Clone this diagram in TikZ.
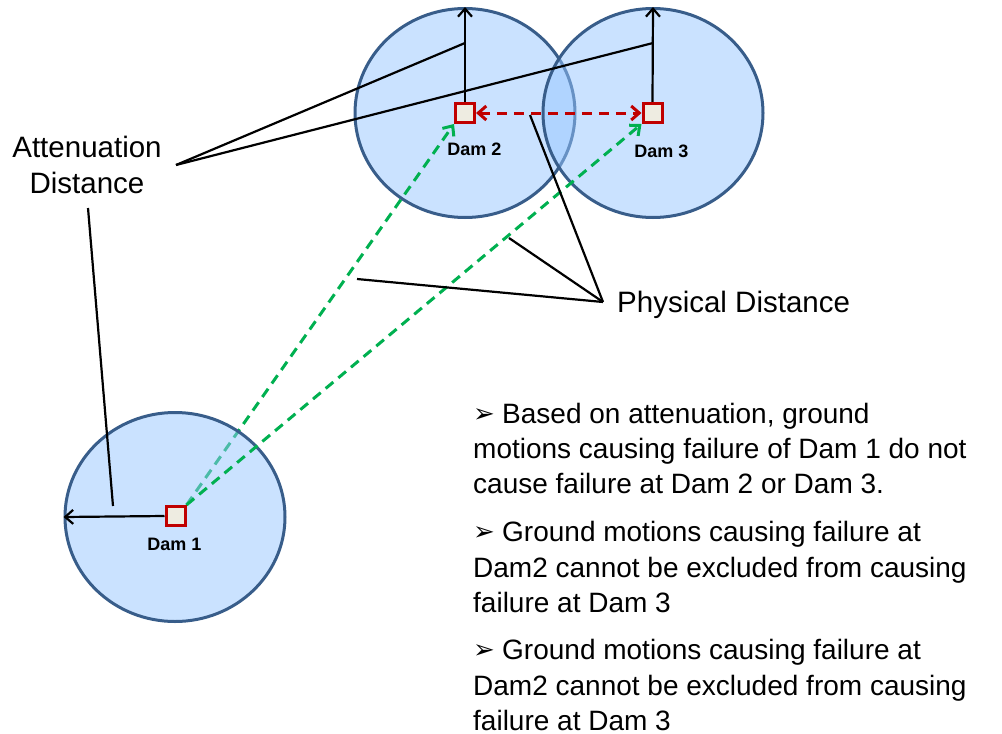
\documentclass[tikz,border=0pt]{standalone}
\usepackage{fontspec}
\setmainfont{Liberation Sans}
\newfontfamily\symfont{DejaVu Sans}
\usetikzlibrary{arrows.meta,shapes.geometric}

\pgfdeclarelayer{far}
\pgfdeclarelayer{near}
\pgfdeclarelayer{front}
\pgfsetlayers{far,near,main,front}

\definecolor{zonefill}{RGB}{150,198,255}
\definecolor{zoneedge}{RGB}{56,93,138}
\definecolor{damred}{RGB}{192,0,0}
\definecolor{damfill}{RGB}{238,236,225}
\definecolor{pathgreen}{RGB}{0,176,80}

\tikzset{
  zone/.style={ellipse, minimum width=220pt, minimum height=209pt, inner sep=0pt,
    draw=zoneedge, line width=3pt, fill=zonefill, fill opacity=0.5},
  damsq/.style={rectangle, draw=damred, fill=damfill, line width=3pt,
    minimum size=19pt, inner sep=0pt},
  damlabel/.style={font=\fontsize{18}{20}\selectfont\bfseries, inner sep=0pt, anchor=base},
  bigtext/.style={font=\fontsize{28}{36}\selectfont, inner sep=0pt},
  calltext/.style={font=\fontsize{29.5}{36}\selectfont, inner sep=0pt},
  pointer/.style={black, line width=2.2pt},
  reach/.style={black, line width=2.2pt, -{Straight Barb[length=8pt, width=14pt]}},
  pathred/.style={damred, line width=3pt, dash pattern=on 10pt off 7pt,
    {Straight Barb[length=8pt, width=14pt]}-{Straight Barb[length=8pt, width=14pt]}},
  pathgr/.style={pathgreen, line width=3pt, dash pattern=on 10pt off 6.5pt,
    -{Straight Barb[length=8pt, width=14pt]}},
  bulletline/.style={bigtext, anchor=base west},
}
\newcommand{\arrowbullet}{\makebox[29pt][l]{\raisebox{0.5pt}{\symfont\fontsize{26}{26}\selectfont ➢}}}

\begin{document}
\begin{tikzpicture}[x=1pt,y=-1pt]
\useasboundingbox (0,0) rectangle (1002,734);

% dam sites
\begin{pgfonlayer}{front}
  \node[damsq] (d1) at (175.5,516) {};
  \node[damsq] (d2) at (465,113) {};
  \node[damsq] (d3) at (652.5,113) {};
\end{pgfonlayer}

% attenuation zones of Dam 2 and Dam 3, with the path to Dam 2 beneath Dam 1's zone
\begin{pgfonlayer}{far}
  \node[zone] (z2) at (465,113) {};
  \node[zone] (z3) at (653,113) {};
  \draw[pathgr] (d1.north east) -- (d2.south west);
\end{pgfonlayer}
\begin{pgfonlayer}{near}
  \node[zone] (z1) at (175,517) {};
\end{pgfonlayer}

% path to Dam 3 and the link between Dam 2 and Dam 3
\draw[pathgr] (d1.north east) -- (d3.south west);
\draw[pathred] (d2.east) -- (d3.west);

% attenuation radii
\draw[reach] (d2.north) -- (z2.north);
\draw[reach] (d3.north) -- (z3.north);
\draw[reach] (d1.west) -- (z1.west);

% dam labels
\node[damlabel] (l1) at (174.5,550) {Dam 1};
\node[damlabel] (l2) at (474.5,155) {Dam 2};
\node[damlabel] (l3) at (661.5,157) {Dam 3};

% callout: attenuation distance
\node[calltext, align=center, anchor=north] (att) at (87,136) {Attenuation\\Distance};
\coordinate (attfoot) at (176,165);
\coordinate (attdown) at (88,208);
\coordinate (r2) at (465,43);
\coordinate (r3) at (653,43);
\coordinate (r1) at (113,506);
\draw[pointer] (attfoot) -- (r2);
\draw[pointer] (attfoot) -- (r3);
\draw[pointer] (attdown) -- (r1);

% callout: physical distance
\node[calltext, anchor=base west] (phys) at (617,312) {Physical Distance};
\coordinate (physfoot) at (603,302);
\coordinate (p1) at (530,115);
\coordinate (p2) at (509,238);
\coordinate (p3) at (357,279);
\draw[pointer] (physfoot) -- (p1);
\draw[pointer] (physfoot) -- (p2);
\draw[pointer] (physfoot) -- (p3);

% conclusions
\node[bulletline] (c1a) at (473,423) {\arrowbullet Based on attenuation, ground};
\node[bulletline] (c1b) at (473,458) {motions causing failure of Dam 1 do not};
\node[bulletline] (c1c) at (473,493) {cause failure at Dam 2 or Dam 3.};
\node[bulletline] (c2a) at (473,541) {\arrowbullet Ground motions causing failure at};
\node[bulletline] (c2b) at (473,577) {Dam2 cannot be excluded from causing};
\node[bulletline] (c2c) at (473,612) {failure at Dam 3};
\node[bulletline] (c3a) at (473,659) {\arrowbullet Ground motions causing failure at};
\node[bulletline] (c3b) at (473,695) {Dam2 cannot be excluded from causing};
\node[bulletline] (c3c) at (473,730) {failure at Dam 3};
\end{tikzpicture}
\end{document}
